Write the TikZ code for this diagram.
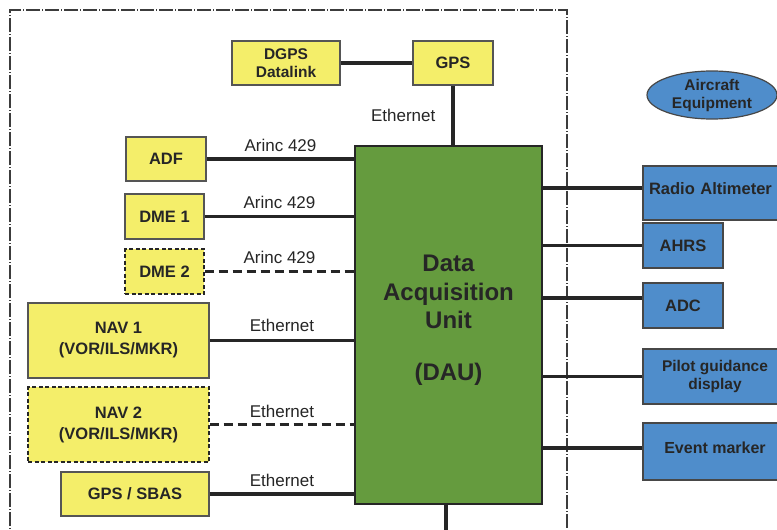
\documentclass[tikz,border=0pt]{standalone}
\usepackage{fontspec}
\setmainfont{Liberation Sans}
\usetikzlibrary{shapes.geometric}
\definecolor{ink}{HTML}{262626}
\definecolor{boxline}{HTML}{555555}
\definecolor{navyellow}{HTML}{F4EE6A}
\definecolor{daugreen}{HTML}{659B3E}
\definecolor{acblue}{HTML}{4F8DCB}

\begin{document}
\begin{tikzpicture}[x=1pt,y=-1pt,
  box/.style={draw=boxline, line width=1.2pt, inner sep=0pt, text=ink, align=center,
    font=\bfseries\fontsize{16.5}{21}\selectfont},
  ybox/.style={box, fill=navyellow},
  optbox/.style={ybox, draw=ink, dash pattern=on 4pt off 2.5pt},
  bbox/.style={box, fill=acblue, draw=ink!85},
  wire/.style={draw=ink, line width=3.4pt},
  optwire/.style={wire, dash pattern=on 9pt off 5pt},
  lbl/.style={font=\fontsize{17}{20}\selectfont, text=ink, inner sep=2pt},
  daulbl/.style={font=\bfseries\fontsize{24}{28.5}\selectfont, text=ink, align=center, inner sep=0pt},
]
\useasboundingbox (0,0) rectangle (777,530);
\fill[white] (0,0) rectangle (777,530);

% installation boundary (open at the bottom)
\draw[ink!90, line width=1.1pt, dash pattern=on 14pt off 2pt on 1pt off 2pt]
  (10,545) -- (10,10) -- (567,10) -- (567,545);

% central unit
\node[box, fill=daugreen, draw=ink, minimum width=187pt, minimum height=358pt] (dau) at (448.5,325) {};
\node[daulbl] (dautitle) at (448.5,292) {Data\\Acquisition\\Unit};
\node[daulbl, anchor=base] (dauabbr) at (448.5,380) {(DAU)};

% navigation sensors
\node[ybox, minimum width=108pt, minimum height=44pt, font=\bfseries\fontsize{15.5}{18.5}\selectfont] (dgps) at (286,63) {DGPS\\Datalink};
\node[ybox, minimum width=80pt, minimum height=44pt] (gps) at (453,63) {GPS};
\node[ybox, minimum width=80pt, minimum height=44pt] (adf) at (166,159) {ADF};
\node[ybox, minimum width=79pt, minimum height=45pt] (dme1) at (164.5,216.5) {DME 1};
\node[optbox, minimum width=79pt, minimum height=45pt] (dme2) at (164.5,271.5) {DME 2};
\node[ybox, minimum width=181pt, minimum height=75pt] (nav1) at (118.5,340.5) {NAV 1\\(VOR/ILS/MKR)};
\node[optbox, minimum width=181pt, minimum height=75pt] (nav2) at (118.5,424.5) {NAV 2\\(VOR/ILS/MKR)};
\node[ybox, minimum width=148pt, minimum height=44pt] (sbas) at (135,494) {GPS / SBAS};

% aircraft equipment
\node[ellipse, bbox, minimum width=130pt, minimum height=48pt, font=\bfseries\fontsize{15.5}{18}\selectfont] (legend) at (712,95) {Aircraft\\Equipment};
\node[bbox, minimum width=150pt, minimum height=54pt, text width=138pt, inner xsep=6pt, align=left,
  text height=12pt, text depth=10pt] (radio) at (718,193) {Radio Altimeter};
\node[bbox, minimum width=80pt, minimum height=45pt] (ahrs) at (683,245.5) {AHRS};
\node[bbox, minimum width=80pt, minimum height=45pt] (adc) at (683,305.5) {ADC};
\node[bbox, minimum width=144pt, minimum height=55pt, font=\bfseries\fontsize{15.5}{18}\selectfont] (pilot) at (715,376.5) {Pilot guidance\\display};
\node[bbox, minimum width=144pt, minimum height=57pt, font=\bfseries\fontsize{16}{19}\selectfont,
  text height=12pt, text depth=9pt] (event) at (715,451.5) {Event marker};

% links into the DAU
\draw[wire] (dgps) -- (gps);
\draw[wire] (gps) -- (gps |- dau.north) node[lbl, midway, left=14pt] {Ethernet};
\draw[wire] (adf) -- (adf -| dau.west) node[lbl, midway, above=4pt] {Arinc 429};
\draw[wire] (dme1) -- (dme1 -| dau.west) node[lbl, midway, above=4pt] {Arinc 429};
\draw[optwire] (dme2) -- (dme2 -| dau.west) node[lbl, midway, above=4pt] {Arinc 429};
\draw[wire] (nav1) -- (nav1 -| dau.west) node[lbl, midway, above=5pt] {Ethernet};
\draw[optwire] (nav2) -- (nav2 -| dau.west) node[lbl, midway, above=3pt] {Ethernet};
\draw[wire] (sbas) -- (sbas -| dau.west) node[lbl, midway, above=4pt] {Ethernet};

% links to aircraft equipment
\draw[wire] ([yshift=5pt]radio.west) -- ([yshift=5pt]radio.west -| dau.east);
\draw[wire] (ahrs) -- (ahrs -| dau.east);
\draw[wire] ([yshift=7.5pt]adc.west) -- ([yshift=7.5pt]adc.west -| dau.east);
\draw[wire] (pilot) -- (pilot -| dau.east);
\draw[wire] ([yshift=3.5pt]event.west) -- ([yshift=3.5pt]event.west -| dau.east);

% downward link leaving the picture
\coordinate (dauout) at (446,545);
\draw[wire] (dau.south -| dauout) -- (dauout);
\end{tikzpicture}
\end{document}
